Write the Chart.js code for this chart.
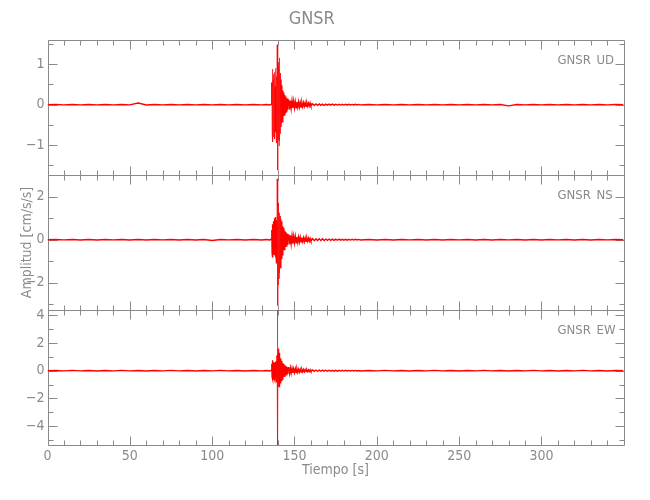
<!DOCTYPE html>
<html>
<head>
<meta charset="utf-8">
<title>GNSR</title>
<script src="https://cdn.jsdelivr.net/npm/chart.js@4.4.1/dist/chart.umd.min.js"></script>
<style>
  html, body { margin: 0; padding: 0; background: #fff; }
  #wrap { width: 650px; height: 500px; }
</style>
</head>
<body>
<div id="wrap"><canvas id="sismo" width="650" height="500"></canvas></div>
<script>
// tiempo [s], shared by the three components
const tiempo = [
  0, 5, 10, 15, 20, 25, 30, 35, 40, 45, 50, 55, 60, 65, 70, 75, 80, 85, 90, 95, 100, 105, 110, 115, 120, 125, 130,
  133, 135, 136,
  136.2, 136.4, 136.6, 136.8, 137, 137.2, 137.4, 137.6, 137.8, 138,
  138.2, 138.4, 138.6, 138.8, 139, 139.2, 139.4, 139.6, 139.8, 140,
  140.2, 140.4, 140.6, 140.8, 141, 141.2, 141.4, 141.6, 141.8, 142,
  142.2, 142.4, 142.6, 142.8, 143, 143.2, 143.4, 143.6, 143.8, 144,
  144.2, 144.4, 144.6, 144.8, 145, 145.2, 145.4, 145.6, 145.8, 146,
  146.5, 147, 147.5, 148, 148.5, 149, 149.5, 150, 150.5, 151, 151.5, 152, 152.5, 153,
  153.5, 154, 154.5, 155, 155.5, 156, 156.5, 157, 157.5, 158, 158.5, 159, 159.5, 160,
  161, 162, 163, 164, 165, 166, 167, 168, 169, 170, 171, 172, 173, 174, 175,
  176, 177, 178, 179, 180, 181, 182, 183, 184, 185, 186, 187, 188, 189, 190,
  195, 200, 205, 210, 215, 220, 225, 230, 235, 240, 245, 250, 255, 260, 265, 270,
  275, 280, 285, 290, 295, 300, 305, 310, 315, 320, 325, 330, 335, 340, 345, 349.8
];

// GNSR UD [cm/s/s]
const ud = [
  0, 0.004, -0.004, 0.005, -0.006, 0.004, -0.004, 0.005, -0.004, 0.006, -0.004, 0.04, -0.008, 0.004, -0.005, 0.004, -0.004, 0.006, -0.004, 0.005, -0.004, 0.004, -0.005, 0.004, -0.006, 0.004, -0.005,
  0.004, -0.008, 0.012,
  0.55, -0.70, 0.88, -0.92, 0.62, -0.80, 0.75, -0.55, 0.80, -0.85,
  0.45, -0.68, 0.90, -0.75, 0.70, -0.95, 0.85, 1.48, -1.62, 0.95,
  -0.88, 1.05, -1.02, 1.16, -0.90, 0.78, -0.72, 0.62, -0.55, 0.48,
  -0.45, 0.40, -0.42, 0.35, -0.33, 0.30, -0.28, 0.27, -0.25, 0.24,
  -0.22, 0.20, -0.21, 0.18, -0.17, 0.16, -0.15, 0.15, -0.13, 0.12,
  0.11, -0.12, 0.10, -0.09, 0.10, -0.08, 0.09, -0.08, 0.07, -0.08, 0.07, -0.06, 0.07, -0.06,
  0.05, -0.06, 0.05, -0.05, 0.05, -0.04, 0.05, -0.04, 0.04, -0.04, 0.04, -0.03, 0.04, -0.03,
  0.02, -0.02, 0.02, -0.015, 0.02, -0.015, 0.015, -0.015, 0.015, -0.012, 0.012, -0.012, 0.012, -0.012, 0.01,
  -0.01, 0.01, -0.01, 0.008, -0.01, 0.008, -0.008, 0.008, -0.008, 0.006, -0.008, 0.008, -0.006, 0.006, -0.006,
  0.005, -0.006, 0.004, -0.005, 0.006, -0.004, 0.005, -0.006, 0.004, -0.005, 0.004, -0.006, 0.005, -0.004, 0.006, -0.004,
  0.005, -0.03, 0.004, -0.005, 0.006, -0.004, 0.005, -0.006, 0.004, -0.005, 0.004, -0.006, 0.005, -0.004, 0.005, 0
];

// GNSR NS [cm/s/s]
const ns = [
  0, 0.012, -0.01, 0.012, -0.012, 0.01, -0.012, 0.012, -0.01, 0.012, -0.012, 0.01, -0.012, 0.012, -0.01, 0.012, -0.012, 0.01, -0.012, 0.012, -0.04, 0.012, -0.01, 0.012, -0.012, 0.01, -0.012,
  0.01, -0.012, 0.03,
  0.45, -0.60, 0.72, -0.82, 0.55, -0.70, 0.85, -0.55, 1.00, -0.62,
  0.80, -0.66, 1.05, -0.75, 0.90, -1.10, 1.60, 2.82, -3.05, 1.70,
  -2.10, 1.45, -1.80, 1.25, -1.55, 1.10, -1.30, 0.95, -1.20, 0.85,
  -0.90, 0.78, -0.70, 0.62, -0.58, 0.55, -0.50, 0.48, -0.45, 0.42,
  -0.38, 0.36, -0.34, 0.32, -0.30, 0.30, -0.27, 0.26, -0.25, 0.24,
  0.22, -0.21, 0.20, -0.19, 0.18, -0.18, 0.16, -0.15, 0.15, -0.14, 0.13, -0.12, 0.12, -0.11,
  0.11, -0.10, 0.10, -0.09, 0.09, -0.09, 0.08, -0.08, 0.08, -0.07, 0.07, -0.07, 0.06, -0.06,
  0.05, -0.045, 0.045, -0.04, 0.04, -0.035, 0.04, -0.035, 0.03, -0.03, 0.03, -0.03, 0.025, -0.03, 0.025,
  -0.025, 0.025, -0.02, 0.02, -0.02, 0.02, -0.02, 0.02, -0.015, 0.02, -0.015, 0.015, -0.015, 0.015, -0.012,
  0.012, -0.012, 0.01, -0.012, 0.012, -0.01, 0.012, -0.012, 0.01, -0.012, 0.012, -0.01, 0.012, -0.012, 0.01, -0.012,
  0.012, -0.01, 0.012, -0.012, 0.01, -0.012, 0.012, -0.01, 0.012, -0.012, 0.01, -0.012, 0.012, -0.01, 0.012, 0
];

// GNSR EW [cm/s/s]
const ew = [
  0, 0.015, -0.015, 0.02, -0.015, 0.015, -0.02, 0.015, -0.015, 0.02, -0.015, 0.015, -0.02, 0.015, -0.015, 0.02, -0.015, 0.015, -0.02, 0.015, -0.015, 0.02, -0.015, 0.015, -0.02, 0.015, -0.015,
  0.015, -0.02, 0.04,
  0.50, -0.45, 0.75, -0.60, 0.55, -0.65, 0.60, -0.50, 0.48, -0.62,
  0.58, -0.55, 0.65, -0.60, 0.70, -0.85, 1.10, 7.50, -6.00, 1.20,
  -1.10, 1.60, -1.15, 1.30, -0.95, 0.90, -0.92, 0.85, -0.80, 0.72,
  -0.75, 0.65, -0.60, 0.55, -0.50, 0.48, -0.45, 0.42, -0.40, 0.40,
  -0.36, 0.35, -0.33, 0.30, -0.30, 0.28, -0.26, 0.25, -0.24, 0.22,
  0.22, -0.20, 0.19, -0.18, 0.17, -0.16, 0.15, -0.15, 0.14, -0.13, 0.12, -0.12, 0.11, -0.10,
  0.10, -0.10, 0.09, -0.08, 0.08, -0.08, 0.07, -0.07, 0.07, -0.06, 0.06, -0.06, 0.06, -0.05,
  0.05, -0.05, 0.045, -0.04, 0.045, -0.04, 0.04, -0.035, 0.035, -0.035, 0.035, -0.03, 0.03, -0.03, 0.03,
  -0.03, 0.025, -0.025, 0.025, -0.025, 0.025, -0.02, 0.02, -0.02, 0.02, -0.02, 0.02, -0.02, 0.015, -0.02,
  0.015, -0.015, 0.02, -0.015, 0.015, -0.02, 0.015, -0.015, 0.02, -0.015, 0.015, -0.02, 0.015, -0.015, 0.02, -0.015,
  0.015, -0.02, 0.015, -0.015, 0.02, -0.015, 0.015, -0.02, 0.015, -0.015, 0.02, -0.015, 0.015, -0.02, 0.015, 0
];

// ticks
const xMayor = [0, 50, 100, 150, 200, 250, 300];
const xMenor = [10, 20, 30, 40, 60, 70, 80, 90, 110, 120, 130, 140, 160, 170, 180, 190,
  210, 220, 230, 240, 260, 270, 280, 290, 310, 320, 330, 340];
const udMayor = [-1, 0, 1];
const udMenor = [-1.5, -0.5, 0.5, 1.5];
const nsMayor = [-2, 0, 2];
const nsMenor = [-3, -1, 1];
const ewMayor = [-4, -2, 0, 2, 4];
const ewMenor = [-5, -3, -1, 1, 3];

const gris = '#8a8a8a';
const fuente = "'Liberation Sans Narrow', 'DejaVu Sans Condensed', sans-serif";

const paneles = [
  { id: 'ud', nombre: 'UD', mayor: udMayor, menor: udMenor },
  { id: 'ns', nombre: 'NS', mayor: nsMayor, menor: nsMenor },
  { id: 'ew', nombre: 'EW', mayor: ewMayor, menor: ewMenor }
];

function puntos(serie) {
  return tiempo.map((t, i) => ({ x: t, y: serie[i] }));
}

function etiqueta(v) {
  return v < 0 ? '\u2212' + Math.abs(v) : String(v);
}

function ejeY(min, max, mayor, titulo) {
  return {
    type: 'linear',
    position: 'left',
    stack: 'sismo',
    stackWeight: 1,
    min: min,
    max: max,
    afterBuildTicks: s => { s.ticks = mayor.map(v => ({ value: v })); },
    afterFit: s => { s.width = 47.5; },
    grid: { display: false, drawTicks: false },
    border: { display: false },
    ticks: { autoSkip: false, padding: 3, color: gris, font: { family: fuente, size: 14 }, callback: etiqueta },
    title: titulo ? { display: true, text: titulo, color: gris, font: { family: fuente, size: 14 }, padding: { top: 18.6, bottom: 0 } } : { display: false }
  };
}

// frame, inward ticks and component names
const marco = {
  id: 'marco',
  beforeDatasetsDraw(chart) {
    const ctx = chart.ctx;
    const x = chart.scales.x;
    const r = v => Math.round(v) + 0.5;
    const L = r(x.left), R = r(x.right);
    ctx.save();
    ctx.strokeStyle = gris;
    ctx.lineWidth = 1;
    paneles.forEach(p => {
      const y = chart.scales[p.id];
      const T = r(y.top), B = r(y.bottom);
      ctx.beginPath();
      ctx.rect(L, T, R - L, B - T);
      xMayor.concat(xMenor).forEach(v => {
        const px = r(x.getPixelForValue(v));
        const len = xMayor.includes(v) ? 9 : 5;
        ctx.moveTo(px, T); ctx.lineTo(px, T + len);
        ctx.moveTo(px, B); ctx.lineTo(px, B - len);
      });
      p.mayor.concat(p.menor).forEach(v => {
        const py = r(y.getPixelForValue(v));
        const len = p.mayor.includes(v) ? 9 : 5;
        ctx.moveTo(L, py); ctx.lineTo(L + len, py);
        ctx.moveTo(R, py); ctx.lineTo(R - len, py);
      });
      ctx.stroke();

      ctx.fillStyle = gris;
      ctx.font = '13px ' + fuente;
      ctx.textBaseline = 'middle';
      ctx.textAlign = 'left';
      ctx.fillText('GNSR', x.right - 66, y.top + 21);
      ctx.fillText(p.nombre, x.right - 27, y.top + 21);
    });
    ctx.restore();
  }
};

// long jumps (the big spikes) are drawn thin, like the pale strokes of the original
const serieEstilo = {
  borderColor: 'rgb(255,0,0)',
  borderWidth: 1.4,
  pointRadius: 0,
  tension: 0,
  fill: false,
  segment: {
    borderWidth: c => Math.abs(c.p1.y - c.p0.y) > 50 ? 0.6 : 1.4
  }
};

new Chart(document.getElementById('sismo'), {
  type: 'line',
  data: {
    datasets: [
      Object.assign({ label: 'UD', data: puntos(ud), yAxisID: 'ud' }, serieEstilo),
      Object.assign({ label: 'NS', data: puntos(ns), yAxisID: 'ns' }, serieEstilo),
      Object.assign({ label: 'EW', data: puntos(ew), yAxisID: 'ew' }, serieEstilo)
    ]
  },
  options: {
    responsive: false,
    animation: false,
    devicePixelRatio: 1,
    layout: { padding: { left: 0, right: 26.5, top: 0, bottom: 0 } },
    plugins: {
      legend: { display: false },
      tooltip: { enabled: false },
      title: {
        display: true,
        text: 'GNSR',
        color: gris,
        font: { family: fuente, size: 18, weight: 'normal' },
        padding: { top: 9, bottom: 9.4 }
      }
    },
    scales: {
      x: {
        type: 'linear',
        position: 'bottom',
        min: 0,
        max: 349.8,
        afterBuildTicks: s => { s.ticks = xMayor.map(v => ({ value: v })); },
        afterFit: s => { s.height = 55; },
        grid: { display: false, drawTicks: false },
        border: { display: false },
        ticks: { autoSkip: false, maxRotation: 0, padding: 3, color: gris, font: { family: fuente, size: 14 } },
        title: { display: true, text: 'Tiempo [s]', color: gris, font: { family: fuente, size: 14 }, padding: { top: 0, bottom: 21.6 } }
      },
      ew: ejeY(-5.35, 4.37, ewMayor),
      ns: ejeY(-3.26, 3.0, nsMayor, 'Amplitud [cm/s/s]'),
      ud: ejeY(-1.74, 1.6, udMayor)
    }
  },
  plugins: [marco]
});
</script>
</body>
</html>
